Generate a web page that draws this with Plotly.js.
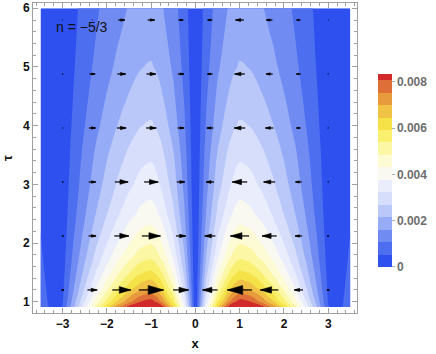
<!DOCTYPE html>
<html>
<head>
<meta charset="utf-8">
<script src="https://cdn.plot.ly/plotly-3.0.1.min.js"></script>
<style>
  html, body { margin: 0; padding: 0; background: #fff; }
  #chart { width: 436px; height: 354px; }
</style>
</head>
<body>
<div id="chart"></div>
<script>
// contour field: x profile (peak = 1 at x = ±1) and amplitude along tau
const xs = [-3.5, -3.25, -3, -2.75, -2.5, -2.25, -2, -1.75, -1.5, -1.25, -1.125, -1, -0.875, -0.75, -0.5, -0.25, -0.125, 0,
            0.125, 0.25, 0.5, 0.75, 0.875, 1, 1.125, 1.25, 1.5, 1.75, 2, 2.25, 2.5, 2.75, 3, 3.25, 3.5];
const profile = [0.12, 0.035, 0.06, 0.23, 0.39, 0.54, 0.67, 0.79, 0.89, 0.97, 0.99, 1.0, 0.96, 0.89, 0.70, 0.42, 0.22, 0.0,
                 0.22, 0.42, 0.70, 0.89, 0.96, 1.0, 0.99, 0.97, 0.89, 0.79, 0.67, 0.54, 0.39, 0.23, 0.06, 0.035, 0.12];
const taus = [0.91, 1, 1.25, 1.5, 1.75, 2, 2.5, 3, 3.5, 4, 4.5, 5, 5.5, 6];
const amp = [0.0093, 0.0083, 0.0069, 0.0060, 0.0053, 0.0048, 0.0040, 0.0035, 0.00314, 0.00275, 0.00245, 0.00219, 0.00200, 0.00185];

// vector field (horizontal component, in x units) on the arrow grid
const arrowX = [-3, -2.33, -1.67, -1, -0.33, 0.33, 1, 1.67, 2.33, 3];
const arrowTau = [1.2, 2.12, 3.04, 3.96, 4.88, 5.8];
const arrowU = [
    [0.06, 0.22, 0.42, 0.56, 0.35, -0.34, -0.56, -0.41, -0.20, -0.06],
    [0.04, 0.17, 0.33, 0.42, 0.22, -0.24, -0.42, -0.33, -0.16, -0.04],
    [0.03, 0.16, 0.30, 0.32, 0.18, -0.18, -0.34, -0.26, -0.14, -0.02],
    [0.02, 0.15, 0.21, 0.23, 0.15, -0.15, -0.25, -0.18, -0.10, -0.02],
    [0.02, 0.13, 0.19, 0.21, 0.14, -0.12, -0.23, -0.15, -0.10, -0.02],
    [0.01, 0.01, 0.15, 0.16, 0.11, -0.11, -0.19, -0.14, -0.09, -0.01]
];

const levelStep = 0.000538;
const bandColors = [
    'rgb(46,80,238)', 'rgb(78,110,240)', 'rgb(112,140,243)', 'rgb(150,172,246)',
    'rgb(186,200,249)', 'rgb(214,222,251)', 'rgb(234,238,252)', 'rgb(249,249,242)',
    'rgb(252,251,212)', 'rgb(252,247,165)', 'rgb(250,240,112)', 'rgb(245,226,72)',
    'rgb(240,195,70)', 'rgb(232,155,60)', 'rgb(222,112,55)', 'rgb(210,42,42)'
];

// z grid built from the two read arrays
const z = amp.map(a => profile.map(f => a * f));
const colorscale = bandColors.map((c, k) => [k / (bandColors.length - 1), c]);

const contour = {
    type: 'contour',
    x: xs,
    y: taus,
    z: z,
    zmin: 0,
    zmax: 0.0082,
    colorscale: colorscale,
    contours: { start: levelStep, end: 15 * levelStep, size: levelStep, coloring: 'fill', showlines: false },
    line: { width: 0, smoothing: 1.3 },
    hoverinfo: 'skip',
    colorbar: {
        x: 1.065, xanchor: 'left', y: 0.46, yanchor: 'middle',
        len: 193, lenmode: 'pixels', thickness: 14, thicknessmode: 'pixels',
        xpad: 0, ypad: 0, outlinewidth: 0,
        tickvals: [0, 0.002, 0.004, 0.006, 0.008],
        ticktext: ['0', '0.002', '0.004', '0.006', '0.008'],
        ticks: 'outside', ticklen: 3, tickcolor: '#aaa',
        tickfont: { family: 'Liberation Sans, Arial, sans-serif', size: 12, color: '#6e6e6e', weight: 'bold' }
    }
};

// arrows: shafts and filled heads, centred on the grid points
const shaftX = [], shaftY = [], headX = [], headY = [];
arrowTau.forEach((t, i) => {
    arrowX.forEach((x0, j) => {
        const u = arrowU[i][j];
        const tip = x0 + u / 2;
        const tail = x0 - u / 2;
        const base = tip - 0.62 * u;
        const h = 0.135 * Math.abs(u);
        shaftX.push(tail, tip, null);
        shaftY.push(t, t, null);
        headX.push(tip, base, base, tip, null);
        headY.push(t, t + h, t - h, t, null);
    });
});

const shafts = {
    type: 'scatter', mode: 'lines', x: shaftX, y: shaftY,
    line: { color: '#000', width: 1.2 }, hoverinfo: 'skip', showlegend: false
};
const heads = {
    type: 'scatter', mode: 'lines', x: headX, y: headY, fill: 'toself', fillcolor: '#000',
    line: { color: '#000', width: 0.6 }, hoverinfo: 'skip', showlegend: false
};

const axisCommon = {
    showline: true, linecolor: '#a0a0a0', linewidth: 1, mirror: 'ticks',
    ticks: 'inside', ticklen: 5, tickcolor: '#a0a0a0',
    minor: { dtick: 0.2, ticks: 'inside', ticklen: 3, tickcolor: '#a0a0a0' },
    showgrid: false, zeroline: false,
    tickfont: { family: 'Liberation Sans, Arial, sans-serif', size: 12, color: '#111', weight: 'bold' }
};

const layout = {
    width: 436, height: 354,
    margin: { l: 33, r: 79, t: 3, b: 41 },
    paper_bgcolor: '#fff', plot_bgcolor: '#fff',
    showlegend: false,
    font: { family: 'Liberation Sans, Arial, sans-serif', size: 12, color: '#111' },
    xaxis: Object.assign({}, axisCommon, {
        range: [-3.67, 3.65], dtick: 1, tick0: 0,
        title: { text: 'x', standoff: 8, font: { size: 13, weight: 'bold', color: '#111' } }
    }),
    yaxis: Object.assign({}, axisCommon, {
        range: [0.807, 6.09], dtick: 1, tick0: 0,
        title: { text: 'τ', standoff: 10, font: { size: 13, weight: 'bold', color: '#111' } }
    }),
    annotations: [{
        text: 'n = −5/3', x: -3.2, y: 5.68, xref: 'x', yref: 'y',
        xanchor: 'left', yanchor: 'middle', showarrow: false,
        font: { family: 'Liberation Sans, Arial, sans-serif', size: 14, color: '#111' }
    }]
};

Plotly.newPlot('chart', [contour, shafts, heads], layout, { displayModeBar: false, staticPlot: true });
</script>
</body>
</html>
